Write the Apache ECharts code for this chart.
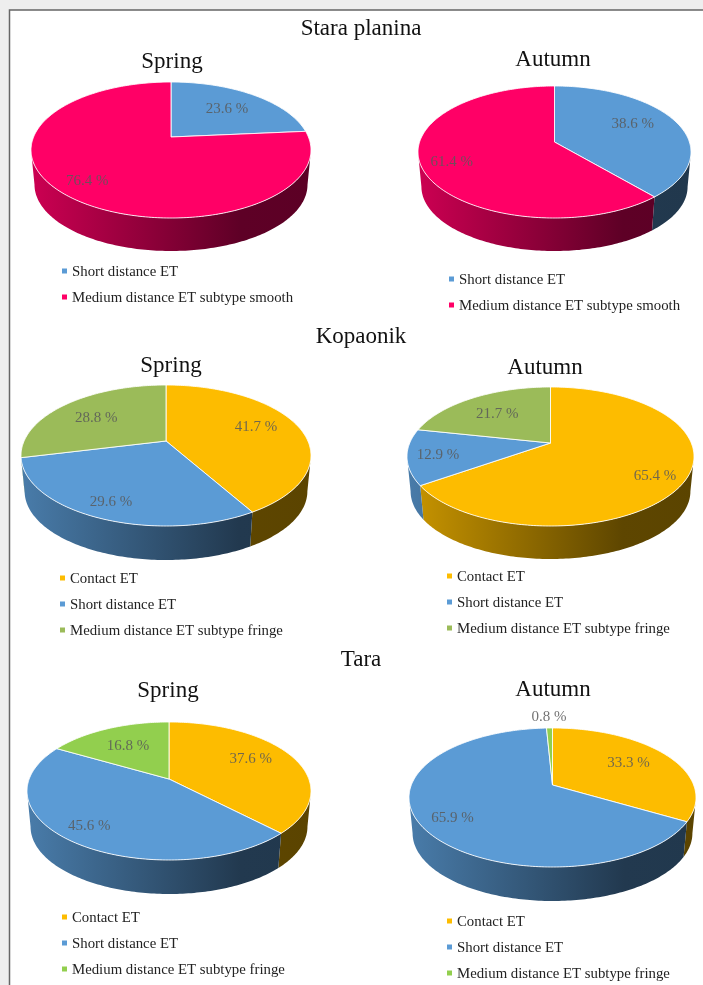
<!DOCTYPE html>
<html>
<head>
<meta charset="utf-8">
<title>ET types</title>
<style>
  html, body { margin: 0; padding: 0; background: #eeeeee; }
  #main { width: 703px; height: 985px; }
</style>
</head>
<body>
<div id="main"></div>
<script src="https://cdn.jsdelivr.net/npm/echarts@6/dist/echarts.min.js"></script>
<script>
// values, clockwise from 12 o'clock
var staraSpring = [23.6, 76.4];
var staraAutumn = [38.6, 61.4];
var kopaonikSpring = [41.7, 29.6, 28.8];
var kopaonikAutumn = [65.4, 12.9, 21.7];
var taraSpring = [37.6, 45.6, 16.8];
var taraAutumn = [33.3, 65.9, 0.8];

var smoothNames = ['Short distance ET', 'Medium distance ET subtype smooth'];
var fringeNames = ['Contact ET', 'Short distance ET', 'Medium distance ET subtype fringe'];

var BLUE = '#5b9bd5', PINK = '#ff0066', GOLD = '#fdbc00', OLIVE = '#9bbb59', GREEN = '#92cf4e';
var SERIF = '"Liberation Serif", "Times New Roman", serif';

// layout: ellipse centre/radii, apex (centre of the pie in perspective), rim bottom, labels, legend
var pies = [
  { values: staraSpring, names: smoothNames, colors: [BLUE, PINK], title: 'Spring',
    cx: 171, cy: 150, rx: 140, ry: 68, apexY: 137, bottom: 251,
    labelR: [0.66, 0.80], labelDy: [1, 0],
    titleX: 172, titleY: 60, legX: 72, legY: 271 },
  { values: staraAutumn, names: smoothNames, colors: [BLUE, PINK], title: 'Autumn',
    cx: 554.5, cy: 152, rx: 136.5, ry: 66, apexY: 142, bottom: 251,
    labelR: [0.64, 0.78], labelDy: [-4, 2],
    titleX: 553, titleY: 58, legX: 459, legY: 279 },
  { values: kopaonikSpring, names: fringeNames, colors: [GOLD, BLUE, OLIVE], title: 'Spring',
    cx: 166, cy: 455.5, rx: 145, ry: 70.5, apexY: 441, bottom: 560,
    labelR: [0.68, 0.83, 0.68], labelDy: [-2, 0, 3],
    titleX: 171, titleY: 364, legX: 70, legY: 578 },
  { values: kopaonikAutumn, names: fringeNames, colors: [GOLD, BLUE, OLIVE], title: 'Autumn',
    cx: 550.5, cy: 456.5, rx: 143.5, ry: 69.5, apexY: 443, bottom: 559,
    labelR: [0.78, 0.79, 0.66], labelDy: [7, 1, 2],
    titleX: 545, titleY: 366, legX: 457, legY: 576 },
  { values: taraSpring, names: fringeNames, colors: [GOLD, BLUE, GREEN], title: 'Spring',
    cx: 169, cy: 791, rx: 142, ry: 69, apexY: 779, bottom: 894,
    labelR: [0.66, 0.83, 0.64], labelDy: [-4, -3, 1],
    titleX: 168, titleY: 689, legX: 72, legY: 917 },
  { values: taraAutumn, names: fringeNames, colors: [GOLD, BLUE, GREEN], title: 'Autumn',
    cx: 552.5, cy: 797.5, rx: 143.5, ry: 69.5, apexY: 785, bottom: 901,
    labelR: [0.66, 0.77, 1.22], labelDy: [-1, 4, -1],
    titleX: 553, titleY: 688, legX: 457, legY: 921 }
];

var headings = [
  { text: 'Stara planina', y: 27 },
  { text: 'Kopaonik', y: 335 },
  { text: 'Tara', y: 658 }
];

function shade(hex, f) {
  var c = echarts.color.parse(hex);
  return 'rgb(' + Math.round(c[0] * f) + ',' + Math.round(c[1] * f) + ',' + Math.round(c[2] * f) + ')';
}

// true angle (clockwise from top) and radius -> screen point, tilted disc with apex off centre
function project(p, theta, r) {
  var e = (p.cy - p.apexY) / p.ry;
  var x = r * Math.sin(theta), y = -r * Math.cos(theta);
  var w = 1 - e * y;
  return [p.cx + p.rx * x * Math.sqrt(1 - e * e) / w, p.cy + p.ry * (y - e) / w];
}

function arcPoints(p, a0, a1) {
  var pts = [], n = Math.max(2, Math.ceil((a1 - a0) / (Math.PI / 180)));
  for (var i = 0; i <= n; i++) pts.push(project(p, a0 + (a1 - a0) * i / n, 1));
  return pts;
}

function makeRender(p) {
  return function (params, api) {
    var idx = api.value(0);
    var a0 = api.value(1) * 2 * Math.PI, a1 = api.value(2) * 2 * Math.PI;
    var color = p.colors[idx];
    var children = [];

    // rim, only where the arc faces the viewer
    var e = (p.cy - p.apexY) / p.ry;
    var frontA = Math.acos(-e), frontB = 2 * Math.PI - frontA;
    var s0 = Math.max(a0, frontA), s1 = Math.min(a1, frontB);
    if (s1 > s0) {
      var top = arcPoints(p, s0, s1);
      var shrink = 0.975;
      var drop = p.bottom - p.cy - p.ry * shrink;
      var low = top.map(function (q) {
        return [p.cx + (q[0] - p.cx) * shrink, p.cy + (q[1] - p.cy) * shrink + drop];
      }).reverse();
      children.push({
        type: 'polygon',
        shape: { points: top.concat(low) },
        style: {
          fill: {
            type: 'linear', global: true,
            x: p.cx - p.rx, y: 0, x2: p.cx + p.rx, y2: 0,
            colorStops: [
              { offset: 0, color: shade(color, 0.8) },
              { offset: 0.75, color: shade(color, 0.37) },
              { offset: 1, color: shade(color, 0.36) }
            ]
          }
        },
        z2: 1
      });
    }

    // top face
    children.push({
      type: 'polygon',
      shape: { points: [[p.cx, p.apexY]].concat(arcPoints(p, a0, a1)) },
      style: { fill: color, stroke: 'rgba(255,255,255,0.85)', lineWidth: 1, lineJoin: 'round' },
      z2: 2
    });

    // label on the mid angle of the slice
    var at = project(p, (a0 + a1) / 2, p.labelR[idx]);
    children.push({
      type: 'text',
      x: at[0], y: at[1] + p.labelDy[idx],
      style: {
        text: api.value(3).toFixed(1) + ' %',
        font: '15px ' + SERIF,
        fill: 'rgba(89,89,89,0.85)',
        align: 'center', verticalAlign: 'middle'
      },
      z2: 3
    });
    return { type: 'group', children: children };
  };
}

var series = pies.map(function (p) {
  var total = p.values.reduce(function (a, b) { return a + b; }, 0), run = 0;
  var rows = p.values.map(function (v, i) {
    var row = [i, run / total, (run + v) / total, v];
    run += v;
    return row;
  });
  return {
    type: 'custom',
    coordinateSystem: 'none',
    silent: true,
    animation: false,
    data: rows,
    encode: { tooltip: [3] },
    renderItem: makeRender(p)
  };
});

var graphics = [{
  type: 'rect',
  shape: { x: 9.5, y: 10, width: 760, height: 1040 },
  style: { fill: '#ffffff', stroke: '#666666', lineWidth: 1.5 },
  z: -10
}];

headings.forEach(function (h) {
  graphics.push({
    type: 'text', x: 361, y: h.y + 2,
    style: { text: h.text, font: '23px ' + SERIF, fill: '#111', align: 'center', verticalAlign: 'middle' }
  });
});

pies.forEach(function (p) {
  graphics.push({
    type: 'text', x: p.titleX, y: p.titleY + 2,
    style: { text: p.title, font: '23px ' + SERIF, fill: '#111', align: 'center', verticalAlign: 'middle' }
  });
  p.names.forEach(function (name, i) {
    var y = p.legY + i * 26;
    graphics.push({
      type: 'rect',
      shape: { x: p.legX - 10, y: y - 2.5, width: 5, height: 5 },
      style: { fill: p.colors[i] }
    });
    graphics.push({
      type: 'text', x: p.legX, y: y + 1,
      style: { text: name, font: '14.8px ' + SERIF, fill: '#222', align: 'left', verticalAlign: 'middle' }
    });
  });
});

var chart = echarts.init(document.getElementById('main'), null, { renderer: 'canvas' });
chart.setOption({
  animation: false,
  backgroundColor: '#eeeeee',
  graphic: graphics,
  series: series
});
</script>
</body>
</html>
